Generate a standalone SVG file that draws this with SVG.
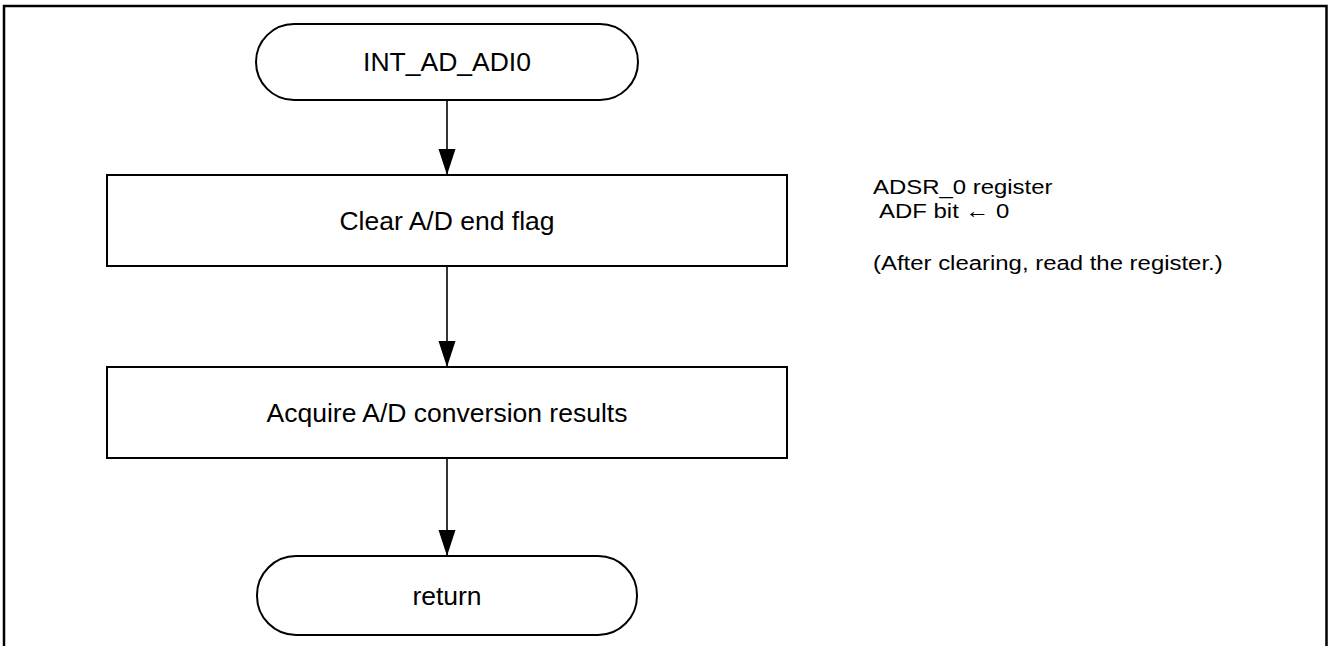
<svg xmlns="http://www.w3.org/2000/svg" width="1328" height="646" viewBox="0 0 1328 646">
<style>
.shape{fill:#fff;stroke:#000;stroke-width:2}
.frame{fill:none;stroke:#000;stroke-width:2.5}
.lbl{font-family:"Liberation Sans",Arial,sans-serif;font-size:26.5px;fill:#000;text-anchor:middle}
.note{font-family:"Liberation Sans",Arial,sans-serif;font-size:21px;fill:#000}
.conn{stroke:#000;stroke-width:1.6;fill:none;marker-end:url(#ah)}
</style>
<defs>
<marker id="ah" markerUnits="userSpaceOnUse" markerWidth="27" markerHeight="18" refX="26" refY="9" orient="auto" viewBox="0 0 27 18">
<path d="M0,0.5 L26,9 L0,17.5 Z" fill="#000"/>
</marker>
</defs>
<rect width="1328" height="646" fill="#fff"/>
<path class="frame" d="M4,646 V6 H1326.5 V646"/>
<g id="connectors">
<line class="conn" x1="447" y1="100" x2="447" y2="175"/>
<line class="conn" x1="447" y1="266" x2="447" y2="367"/>
<line class="conn" x1="447" y1="458" x2="447" y2="556"/>
</g>
<g id="start">
<rect class="shape" x="256" y="24" width="382" height="76" rx="38" ry="38"/>
<text class="lbl" x="447" y="71">INT_AD_ADI0</text>
</g>
<g id="clear">
<rect class="shape" x="107" y="175" width="680" height="91"/>
<text class="lbl" x="447" y="230">Clear A/D end flag</text>
</g>
<g id="acquire">
<rect class="shape" x="107" y="367" width="680" height="91"/>
<text class="lbl" x="447" y="422">Acquire A/D conversion results</text>
</g>
<g id="return">
<rect class="shape" x="257" y="556" width="380" height="79" rx="39" ry="39"/>
<text class="lbl" x="447" y="605">return</text>
</g>
<g id="note" transform="translate(873,0) scale(1.14,1)">
<text class="note" x="0" y="194">ADSR_0 register</text>
<text class="note" x="5.3" y="218.5">ADF bit ← 0</text>
<text class="note" x="0" y="270">(After clearing, read the register.)</text>
</g>
</svg>
